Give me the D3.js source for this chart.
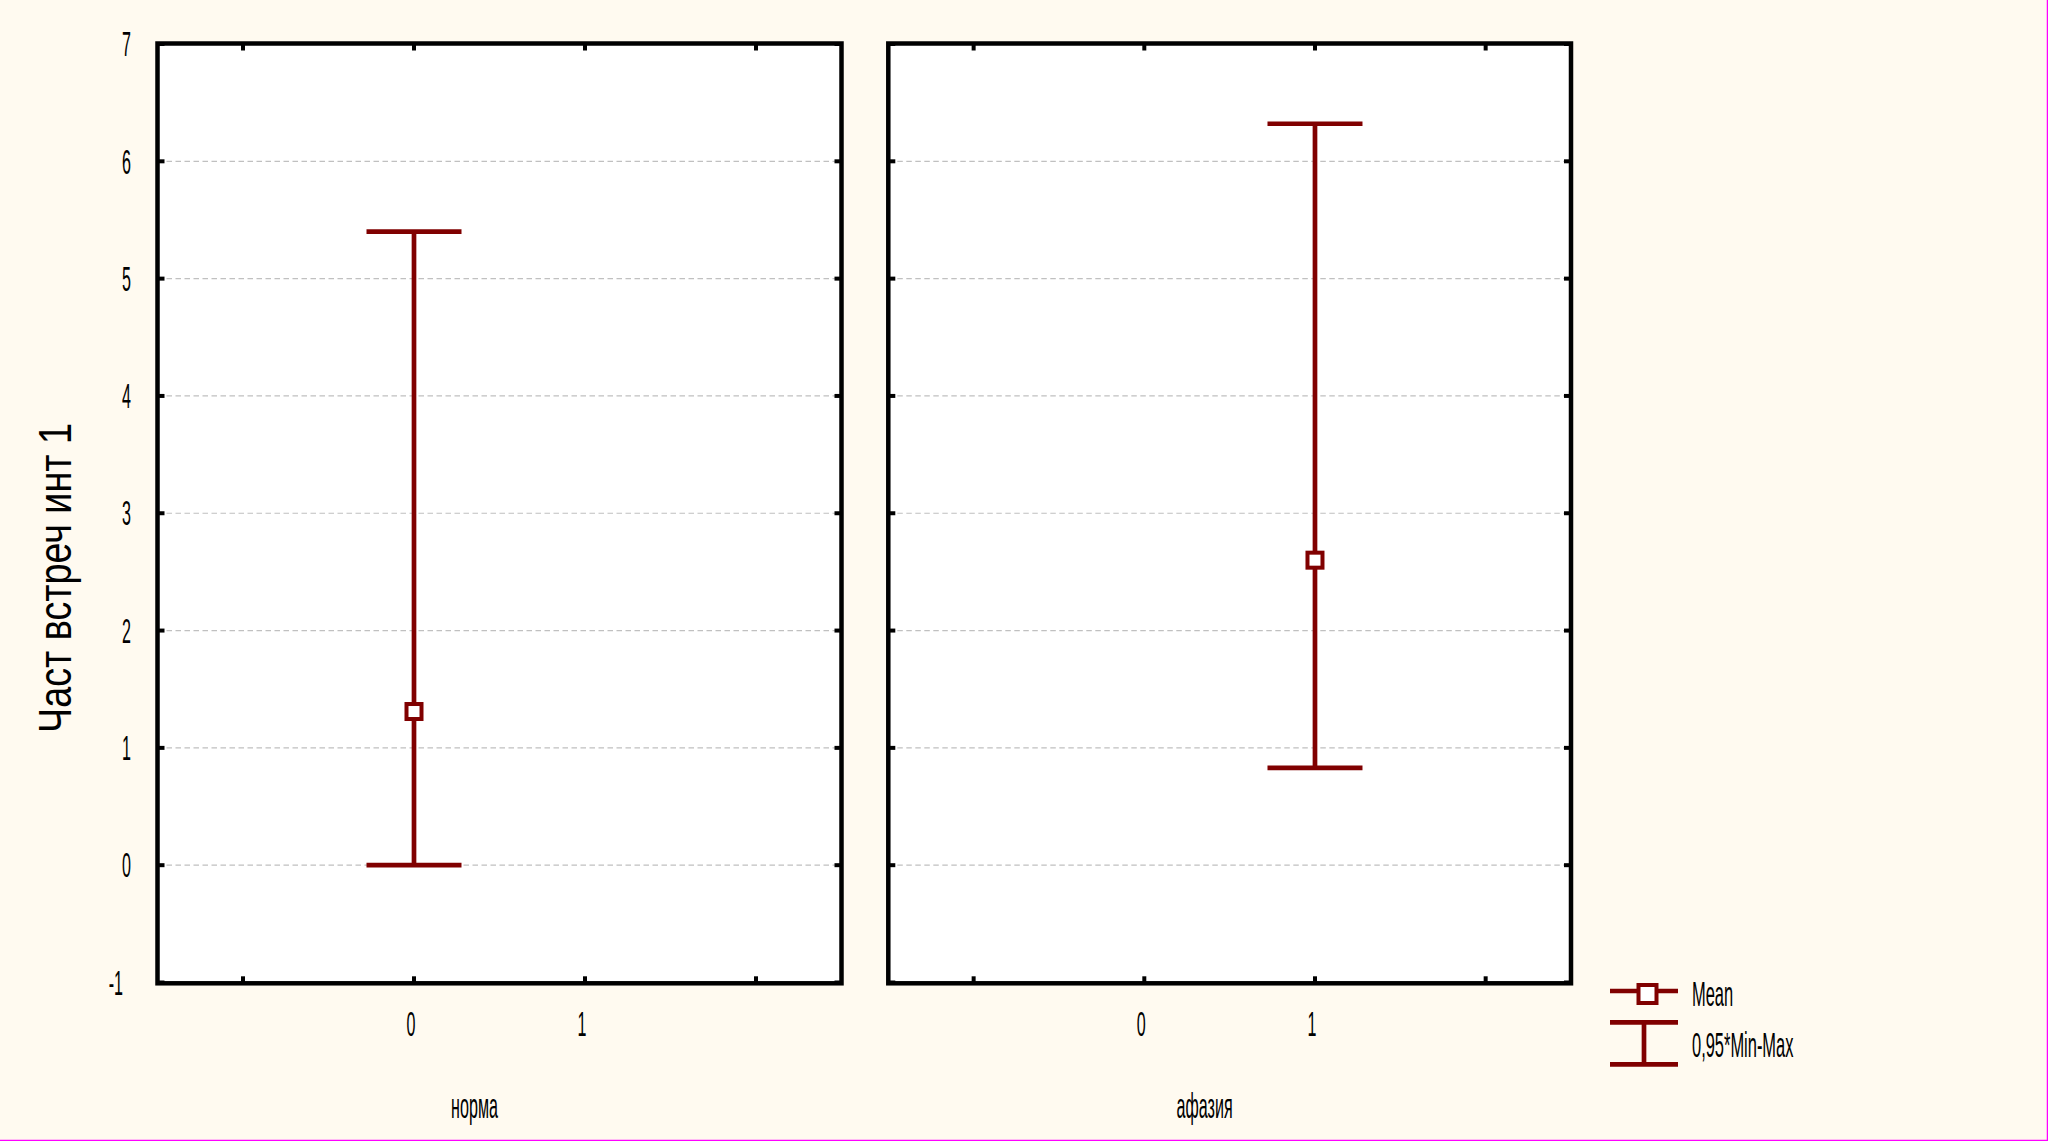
<!DOCTYPE html>
<html>
<head>
<meta charset="utf-8">
<script src="https://cdn.jsdelivr.net/npm/d3@7"></script>
<style>
  html, body { margin: 0; padding: 0; background: #fffaf0; }
  svg { display: block; }
</style>
</head>
<body>
<script>
// ---- data ----
const groups = ["норма", "афазия"];
const groupX = [0, 1];
const means = [1.31, 2.60];
const mins = [0.0, 0.83];
const maxs = [5.40, 6.32];
const yTicks = [-1, 0, 1, 2, 3, 4, 5, 6, 7];
const gridTicks = [0, 1, 2, 3, 4, 5, 6];
const xTicks = [-1, 0, 1, 2];
const xTickLabels = ["0", "1"];
const yTitle = "Част встреч инт 1";
const legendLabels = ["Mean", "0,95*Min-Max"];

const W = 2048, H = 1141;
const dark = "#800000";
const svg = d3.select("body").append("svg").attr("width", W).attr("height", H);
svg.append("rect").attr("width", W).attr("height", H).attr("fill", "#fffaf0");
// magenta edge
svg.append("line").attr("x1", 0).attr("x2", W).attr("y1", H - 0.5).attr("y2", H - 0.5).attr("stroke", "#ff00ff").attr("stroke-width", 1.5);
svg.append("line").attr("x1", W - 0.5).attr("x2", W - 0.5).attr("y1", 0).attr("y2", H).attr("stroke", "#ff00ff").attr("stroke-width", 1.5);

const y = d3.scaleLinear().domain([-1, 7]).range([982.5, 44]);
const frameTop = 43.5, frameBot = 983.3;
const panelX = [[157.5, 841.5], [888.3, 1571]];

function narrowText(g, x, yy, txt, anchor, size, sx) {
  const t = g.append("g").attr("transform", `translate(${x},${yy}) scale(${sx},1)`);
  t.append("text").attr("x", 0).attr("y", 0)
    .attr("text-anchor", anchor).attr("dominant-baseline", "central")
    .attr("font-family", "Liberation Sans, Arial, sans-serif")
    .attr("font-size", size).attr("fill", "#000").text(txt);
}

groups.forEach((name, i) => {
  const [x0, x1] = panelX[i];
  const x = d3.scaleLinear().domain([-1.5, 2.5]).range([x0, x1]);
  const g = svg.append("g");
  g.append("rect").attr("x", x0).attr("y", frameTop).attr("width", x1 - x0).attr("height", frameBot - frameTop).attr("fill", "#fff");
  // grid
  g.selectAll(".grid").data(gridTicks).enter().append("line")
    .attr("x1", x0).attr("x2", x1).attr("y1", d => y(d)).attr("y2", d => y(d))
    .attr("stroke", "#c0c0c0").attr("stroke-width", 1.2).attr("stroke-dasharray", "5.5,3.5");
  // ticks inside: left, right
  g.selectAll(".tl").data(yTicks).enter().append("line")
    .attr("x1", x0).attr("x2", x0 + 7).attr("y1", d => y(d)).attr("y2", d => y(d))
    .attr("stroke", "#000").attr("stroke-width", 4);
  g.selectAll(".tr").data(yTicks).enter().append("line")
    .attr("x1", x1).attr("x2", x1 - 7).attr("y1", d => y(d)).attr("y2", d => y(d))
    .attr("stroke", "#000").attr("stroke-width", 4);
  g.selectAll(".tb").data(xTicks).enter().append("line")
    .attr("x1", d => x(d)).attr("x2", d => x(d)).attr("y1", frameBot).attr("y2", frameBot - 7)
    .attr("stroke", "#000").attr("stroke-width", 4);
  g.selectAll(".tt").data(xTicks).enter().append("line")
    .attr("x1", d => x(d)).attr("x2", d => x(d)).attr("y1", frameTop).attr("y2", frameTop + 7)
    .attr("stroke", "#000").attr("stroke-width", 4);
  // frame
  g.append("rect").attr("x", x0).attr("y", frameTop).attr("width", x1 - x0).attr("height", frameBot - frameTop)
    .attr("fill", "none").attr("stroke", "#000").attr("stroke-width", 4.5);
  // x tick labels
  xTickLabels.forEach((lab, k) => narrowText(g, x(+lab) - 3, 1024, lab, "middle", 35, 0.46));
  // group label
  narrowText(g, (x0 + x1) / 2 - 25, 1106, name, "middle", 35, 0.46);
  // error bar
  const cx = x(groupX[i]);
  const eb = g.append("g").attr("stroke", dark).attr("stroke-width", 4.7).attr("fill", "none");
  eb.append("line").attr("x1", cx).attr("x2", cx).attr("y1", y(maxs[i])).attr("y2", y(mins[i]));
  eb.append("line").attr("x1", cx - 47.5).attr("x2", cx + 47.5).attr("y1", y(maxs[i])).attr("y2", y(maxs[i]));
  eb.append("line").attr("x1", cx - 47.5).attr("x2", cx + 47.5).attr("y1", y(mins[i])).attr("y2", y(mins[i]));
  g.append("rect").attr("x", cx - 7.5).attr("y", y(means[i]) - 7.5).attr("width", 15).attr("height", 15)
    .attr("fill", "#fff").attr("stroke", dark).attr("stroke-width", 4);
});

// y tick labels
const yl = svg.append("g");
yTicks.forEach(t => narrowText(yl, t < 0 ? 123 : 131, y(t), String(t), "end", 35, 0.46));

// y title
svg.append("g").attr("transform", `translate(71,578) rotate(-90) scale(0.82,1)`)
  .append("text").attr("x", 0).attr("y", 0).attr("text-anchor", "middle")
  .attr("font-family", "Liberation Sans, Arial, sans-serif").attr("font-size", 46).attr("fill", "#000")
  .text(yTitle);

// legend
const lg = svg.append("g");
lg.append("line").attr("x1", 1610).attr("x2", 1678).attr("y1", 991).attr("y2", 991).attr("stroke", dark).attr("stroke-width", 4.7);
lg.append("rect").attr("x", 1638.5).attr("y", 985).attr("width", 18).attr("height", 18).attr("fill", "#fff").attr("stroke", dark).attr("stroke-width", 4);
lg.append("line").attr("x1", 1610).attr("x2", 1678).attr("y1", 1022.3).attr("y2", 1022.3).attr("stroke", dark).attr("stroke-width", 4.7);
lg.append("line").attr("x1", 1610).attr("x2", 1678).attr("y1", 1064.3).attr("y2", 1064.3).attr("stroke", dark).attr("stroke-width", 4.7);
lg.append("line").attr("x1", 1644).attr("x2", 1644).attr("y1", 1022.3).attr("y2", 1064.3).attr("stroke", dark).attr("stroke-width", 4.7);
narrowText(lg, 1692, 994, legendLabels[0], "start", 35, 0.47);
narrowText(lg, 1692, 1045, legendLabels[1], "start", 35, 0.47);
</script>
</body>
</html>
